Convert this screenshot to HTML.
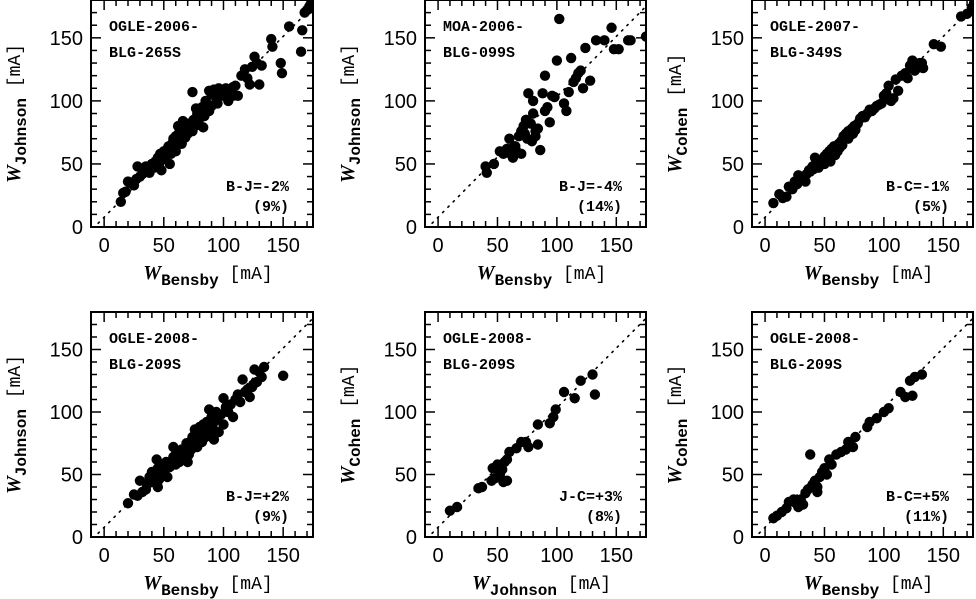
<!DOCTYPE html>
<html><head><meta charset="utf-8">
<style>
html,body{margin:0;padding:0;background:#fff;}
svg{display:block;}
text{font-family:"Liberation Sans",sans-serif;fill:#000;}
.lab{font-family:"Liberation Mono",monospace;font-weight:bold;font-size:15px;}
.tick{font-size:20px;}
.ttl{font-family:"Liberation Serif",serif;font-size:18px;}
</style></head>
<body>
<svg id="fig" width="976" height="599" viewBox="0 0 976 599" xmlns="http://www.w3.org/2000/svg"></svg>
<script>
const p1x=[14,16,18,20,22,25,27,28,30,32,34,35,37,38,40,42,43,45,46,47,48,50,50,52,53,54,55,56,57,58,58,60,60,61,62,63,64,65,66,66,68,69,70,70,72,73,74,75,76,77,78,79,80,80,82,83,84,85,86,88,88,90,92,94,95,96,98,100,102,104,106,108,110,112,115,118,120,122,124,126,128,130,132,140,141,148,149,155,165,166,168,170,172,174,48,55,62,74,90,108];
const p1y=[20,27,28,36,35,33,38,48,40,42,44,48,46,43,50,47,52,55,50,58,56,54,60,57,62,64,60,58,66,63,70,60,72,65,68,75,70,66,73,84,71,77,74,82,78,80,76,85,80,94,90,82,86,92,95,79,88,100,98,92,108,105,109,102,98,110,106,104,110,100,108,111,112,104,120,125,118,113,127,135,130,113,128,149,143,130,122,159,139,156,170,172,175,177,45,50,80,107,96,104];
const p2x=[40,41,47,52,55,58,60,62,63,65,66,68,70,70,72,73,74,75,76,78,79,80,80,82,84,86,88,90,90,92,94,96,98,100,102,106,108,110,112,114,116,118,120,122,124,128,133,140,146,148,152,160,162,175,74,64,82];
const p2y=[48,43,50,60,58,62,70,57,55,64,60,72,76,58,80,74,84,70,106,82,68,90,100,72,78,61,106,120,92,95,83,104,103,132,165,98,92,107,134,115,118,122,124,110,142,116,148,148,158,141,141,148,148,151,85,64,76];
const p3x=[7,12,15,18,20,23,25,27,28,30,32,34,35,37,38,40,41,42,44,45,46,48,50,50,52,53,54,55,56,57,58,59,60,61,62,63,64,65,66,67,68,70,70,72,73,74,75,76,78,80,82,84,86,88,90,92,94,96,98,100,102,104,106,108,110,112,115,118,120,122,124,126,128,130,132,133,142,148,165,170,174,176];
const p3y=[19,26,23,24,32,30,36,34,41,38,40,36,42,45,44,48,46,55,50,47,52,53,56,50,58,55,60,52,62,58,64,57,62,60,66,63,68,65,72,70,74,70,76,73,78,74,80,77,82,86,88,87,90,93,92,94,96,97,98,104,106,112,100,102,117,108,120,122,118,128,132,124,126,130,130,126,145,143,167,169,174,178];
const p4x=[20,25,28,30,32,35,36,38,40,40,42,44,45,46,48,50,50,52,53,55,56,58,60,60,62,63,65,66,68,69,70,71,72,73,74,75,76,78,78,80,80,82,83,84,85,86,88,88,90,91,92,94,95,96,98,100,100,102,104,106,108,110,112,114,116,118,120,122,124,125,126,128,130,132,134,150,45,58,70,88];
const p4y=[27,34,33,45,36,38,42,48,52,44,50,62,55,46,58,50,54,60,48,56,60,64,58,66,62,60,70,65,68,75,72,66,76,70,80,74,86,78,72,88,82,76,90,84,80,92,86,102,96,90,78,100,94,84,98,90,111,104,100,106,96,110,114,108,126,116,118,112,120,122,134,124,132,128,136,129,40,72,60,84];
const p5x=[10,16,34,37,45,46,48,50,52,54,55,56,58,58,60,66,70,74,76,84,84,94,97,99,106,115,120,130,132];
const p5y=[21,24,39,40,45,55,47,58,50,54,44,60,62,45,68,71,76,76,72,74,90,91,96,102,116,111,125,130,114];
const p6x=[7,10,14,18,20,24,26,30,32,34,36,38,40,42,44,46,48,50,54,56,60,64,68,70,74,76,86,88,94,100,104,114,118,122,124,126,132,28,44,52];
const p6y=[15,17,20,23,28,30,27,30,26,35,38,66,42,45,40,48,52,55,62,58,66,68,70,76,72,80,88,92,95,100,103,116,112,125,113,128,130,24,36,50];

const panels=[
 {x0:91,x1:313,y0:0,y1:227,xs:p1x,ys:p1y,n1:'OGLE-2006-',n2:'BLG-265S',s1:'B-J=-2%',s2:'(9%)',xl:'Bensby',yl:'Johnson'},
 {x0:425,x1:646,y0:0,y1:227,xs:p2x,ys:p2y,n1:'MOA-2006-',n2:'BLG-099S',s1:'B-J=-4%',s2:'(14%)',xl:'Bensby',yl:'Johnson'},
 {x0:752,x1:973,y0:0,y1:227,xs:p3x,ys:p3y,n1:'OGLE-2007-',n2:'BLG-349S',s1:'B-C=-1%',s2:'(5%)',xl:'Bensby',yl:'Cohen'},
 {x0:91,x1:313,y0:312,y1:537,xs:p4x,ys:p4y,n1:'OGLE-2008-',n2:'BLG-209S',s1:'B-J=+2%',s2:'(9%)',xl:'Bensby',yl:'Johnson'},
 {x0:425,x1:646,y0:312,y1:537,xs:p5x,ys:p5y,n1:'OGLE-2008-',n2:'BLG-209S',s1:'J-C=+3%',s2:'(8%)',xl:'Johnson',yl:'Cohen'},
 {x0:752,x1:973,y0:312,y1:537,xs:p6x,ys:p6y,n1:'OGLE-2008-',n2:'BLG-209S',s1:'B-C=+5%',s2:'(11%)',xl:'Bensby',yl:'Cohen'}
];
const xTicks=[0,50,100,150];
const yTicks=[0,50,100,150];
const XMIN=-11,XMAX=175,YMIN=0,YMAX=180;
const NS='http://www.w3.org/2000/svg';
const svg=document.getElementById('fig');
function mk(tag,attrs,parent){const e=document.createElementNS(NS,tag);for(const k in attrs)e.setAttribute(k,attrs[k]);(parent||svg).appendChild(e);return e;}
panels.forEach((p,i)=>{
 const g=mk('g',{});
 
 
 const sx=v=>p.x0+(v-XMIN)/(XMAX-XMIN)*(p.x1-p.x0);
 const sy=v=>p.y1-(v-YMIN)/(YMAX-YMIN)*(p.y1-p.y0);
 const cid='c'+i;
 const cp=mk('clipPath',{id:cid},g);
 mk('rect',{x:p.x0,y:p.y0,width:p.x1-p.x0,height:p.y1-p.y0},cp);
 const dl=mk('line',{x1:sx(-5),y1:sy(3),x2:sx(175),y2:sy(175),stroke:'#000','stroke-width':1.6,'stroke-dasharray':'1.5 6','stroke-linecap':'round','clip-path':'url(#'+cid+')'},g);
 
 
 const pg=mk('g',{'clip-path':'url(#'+cid+')'},g);
 p.xs.forEach((xv,j)=>{
  const c=mk('circle',{cx:sx(xv),cy:sy(p.ys[j]),r:5.2,fill:'#000'},pg);
  
  
 });
 const fr=mk('rect',{x:p.x0,y:p.y0,width:p.x1-p.x0,height:p.y1-p.y0,fill:'none',stroke:'#000','stroke-width':2},g);
 
 
 for(let v=0;v<=170;v+=10){
  const L=(v%50===0)?10:6;
  const X=sx(v),Y=sy(v);
  mk('line',{x1:X,y1:p.y1,x2:X,y2:p.y1-L,stroke:'#000','stroke-width':1.5},g);
  mk('line',{x1:X,y1:p.y0,x2:X,y2:p.y0+L,stroke:'#000','stroke-width':1.5},g);
  mk('line',{x1:p.x0,y1:Y,x2:p.x0+L,y2:Y,stroke:'#000','stroke-width':1.5},g);
  mk('line',{x1:p.x1,y1:Y,x2:p.x1-L,y2:Y,stroke:'#000','stroke-width':1.5},g);
 }
 xTicks.forEach(v=>{const t=mk('text',{x:sx(v),y:p.y1+25,'text-anchor':'middle',class:'tick'},g);t.textContent=v;
  });
 yTicks.forEach(v=>{const t=mk('text',{x:p.x0-8,y:sy(v)+7,'text-anchor':'end',class:'tick'},g);t.textContent=v;
  });
 const a=mk('text',{x:p.x0+18,y:p.y0+31,class:'lab'},g);a.textContent=p.n1;
 
 const b=mk('text',{x:p.x0+18,y:p.y0+57,class:'lab'},g);b.textContent=p.n2;
 
 const s1=mk('text',{x:p.x1-24,y:p.y1-36,class:'lab','text-anchor':'end'},g);s1.textContent=p.s1;
 
 const s2=mk('text',{x:p.x1-24,y:p.y1-16,class:'lab','text-anchor':'end'},g);s2.textContent=p.s2;
 
 const cx=(p.x0+p.x1)/2+6;
 const xt=mk('text',{x:cx,y:p.y1+52,'text-anchor':'middle',class:'ttl'},g);
 
 xt.innerHTML='<tspan font-style="italic" font-weight="bold" font-size="20">W</tspan><tspan font-weight="bold" font-size="16" dy="6" font-family="Liberation Mono">'+p.xl+'</tspan><tspan dy="-6" font-family="Liberation Mono" font-size="18"> [mA]</tspan>';
 const cy=(p.y0+p.y1)/2;
 const yt=mk('text',{x:0,y:0,'text-anchor':'middle',class:'ttl',transform:'translate('+(p.x0-71)+','+cy+') rotate(-90)'},g);
 
 yt.innerHTML='<tspan font-style="italic" font-weight="bold" font-size="20">W</tspan><tspan font-weight="bold" font-size="16" dy="6" font-family="Liberation Mono">'+p.yl+'</tspan><tspan dy="-6" font-family="Liberation Mono" font-size="18"> [mA]</tspan>';
});
</script>
</body></html>
